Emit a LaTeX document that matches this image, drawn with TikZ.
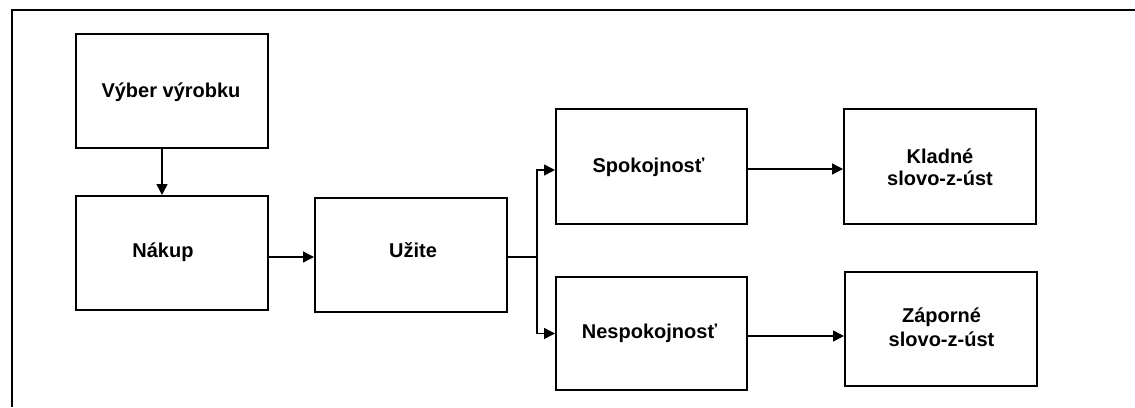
\documentclass[tikz,border=0pt]{standalone}
\usepackage{fontspec}
\setmainfont{Liberation Sans}
\usetikzlibrary{arrows.meta}
\begin{document}
\begin{tikzpicture}[x=1pt,y=-1pt,
  stepbox/.style={draw, line width=2pt, minimum width=192pt, minimum height=114pt, inner sep=0pt},
  lbl/.style={font=\fontsize{20}{24}\selectfont\bfseries, anchor=base, inner sep=0pt, align=center},
  flow/.style={line width=1.5pt, -{Triangle[length=11pt,width=11pt]}},
  link/.style={line width=1.5pt}]
  % canvas and frame
  \useasboundingbox (0,0) rectangle (1135,407);
  \draw[line width=2pt] (11.5,407) -- (11.5,9.5) -- (1135,9.5);

  % boxes
  \node[stepbox] (vyber) at (172,91) {};
  \node[stepbox] (nakup) at (172,253) {};
  \node[stepbox] (uzite) at (411,255) {};
  \node[stepbox, minimum width=191pt, minimum height=115pt] (spok) at (651.5,166.5) {};
  \node[stepbox, minimum width=191pt, minimum height=113pt] (nesp) at (651.5,333.5) {};
  \node[stepbox, minimum height=115pt] (klad) at (940,166.5) {};
  \node[stepbox] (zap) at (941,329) {};

  % texts
  \node[lbl] (tvyber) at (171,97) {Výber výrobku};
  \node[lbl] (tnakup) at (163,257) {Nákup};
  \node[lbl] (tuzite) at (413,257) {Užite};
  \node[lbl] (tspok) at (648.5,172) {Spokojnosť};
  \node[lbl] (tnesp) at (649.5,338) {Nespokojnosť};
  \node[lbl] (tklad1) at (940,163) {Kladné};
  \node[lbl] (tklad2) at (940,185) {slovo-z-úst};
  \node[lbl] (tzap1) at (941.5,322) {Záporné};
  \node[lbl] (tzap2) at (941.5,346) {slovo-z-úst};

  % connectors
  \draw[flow] ([xshift=-10pt]vyber.south) -- ([xshift=-10pt]nakup.north);
  \draw[flow] ([yshift=-4pt]nakup.east) -- ([yshift=-4pt]nakup.east -| uzite.west);
  \coordinate (fork) at (537,257);
  \draw[link] ([yshift=-2pt]uzite.east) -- (fork);
  \draw[flow] (fork) |- ([yshift=-3.5pt]spok.west);
  \draw[flow] (fork) |- (nesp.west);
  \draw[flow] ([yshift=-2.5pt]spok.east) -- ([yshift=-2.5pt]spok.east -| klad.west);
  \draw[flow] ([yshift=-2.5pt]nesp.east) -- ([yshift=-2.5pt]nesp.east -| zap.west);
\end{tikzpicture}
\end{document}
